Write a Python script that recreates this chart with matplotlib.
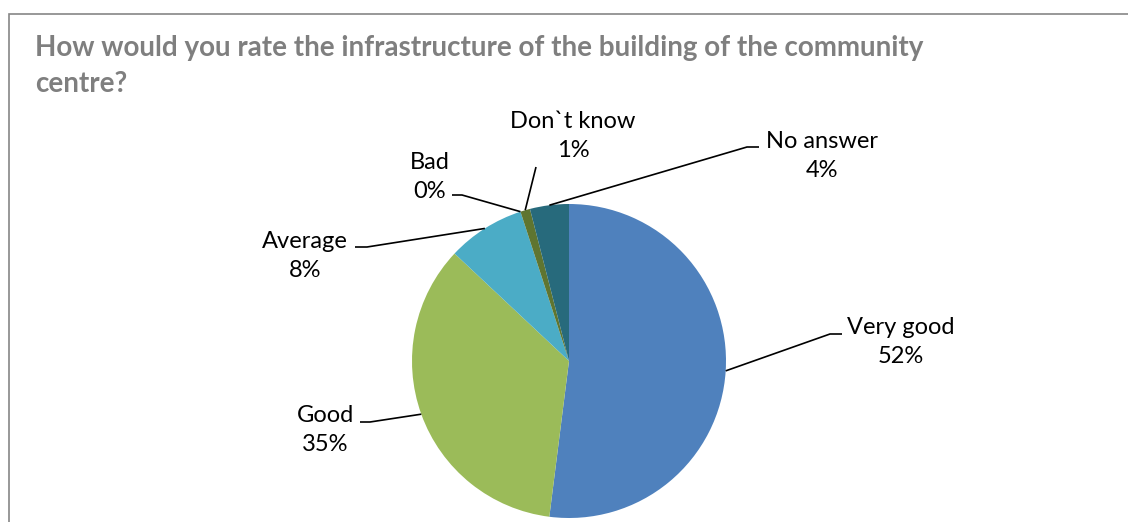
import matplotlib.pyplot as plt
from matplotlib.patches import Rectangle
import numpy as np

plt.rcParams['font.family'] = ['Lato', 'DejaVu Sans']

categories = ['Very good', 'Good', 'Average', 'Bad', 'Don`t know', 'No answer']
shares = [52, 35, 8, 0, 1, 4]
colors = ['#4F81BD', '#9BBB59', '#4BACC6', '#2C4D75', '#5F7530', '#276A7C']
title = 'How would you rate the infrastructure of the building of the community\ncentre?'

W, H = 1128, 522

# label block centre and leader elbow / tail, in pixels from the top-left corner
label_pos = [(901, 342), (325, 430), (305, 256), (430, 177), (573, 136), (822, 156)]
elbows = [(830, 334), (370, 422), (367, 247), (462, 195), (536, 167), (747, 147)]
tails = [(842, 334), (360, 422), (355, 247), (452, 195), (536, 167), (759, 147)]

fig = plt.figure(figsize=(W / 100, H / 100), dpi=100)
ax = fig.add_axes([0, 0, 1, 1])

cx, cy, r = 569, H - 361, 157
wedges, _ = ax.pie(shares, colors=colors, startangle=90, counterclock=False,
                   center=(cx, cy), radius=r, wedgeprops=dict(linewidth=0))
ax.set_xlim(0, W)
ax.set_ylim(0, H)
ax.set_aspect('equal')
ax.axis('off')

# chart area frame
ax.add_patch(Rectangle((9, -20), W + 20, H - 14 + 20, fill=False,
                       edgecolor='#868686', lw=1.2))

for i, w in enumerate(wedges):
    if shares[i] == 0:
        ang = np.deg2rad(w.theta1)
    else:
        ang = np.deg2rad((w.theta1 + w.theta2) / 2)
    ex, ey = cx + r * np.cos(ang), cy + r * np.sin(ang)
    (kx, ky), (tx, ty) = elbows[i], tails[i]
    ax.plot([ex, kx, tx], [ey, H - ky, H - ty], color='black', lw=1.2,
            solid_capstyle='butt')
    lx, ly = label_pos[i]
    ax.text(lx, H - ly, f'{categories[i]}\n{shares[i]}%', ha='center',
            va='center', fontsize=17, linespacing=1.42, color='black')

fig.text(35 / W, 1 - 66 / H, title, ha='left', va='center', fontsize=20,
         fontweight='bold', color='#7F7F7F', linespacing=1.5)

fig.savefig('out.png', dpi=100)
